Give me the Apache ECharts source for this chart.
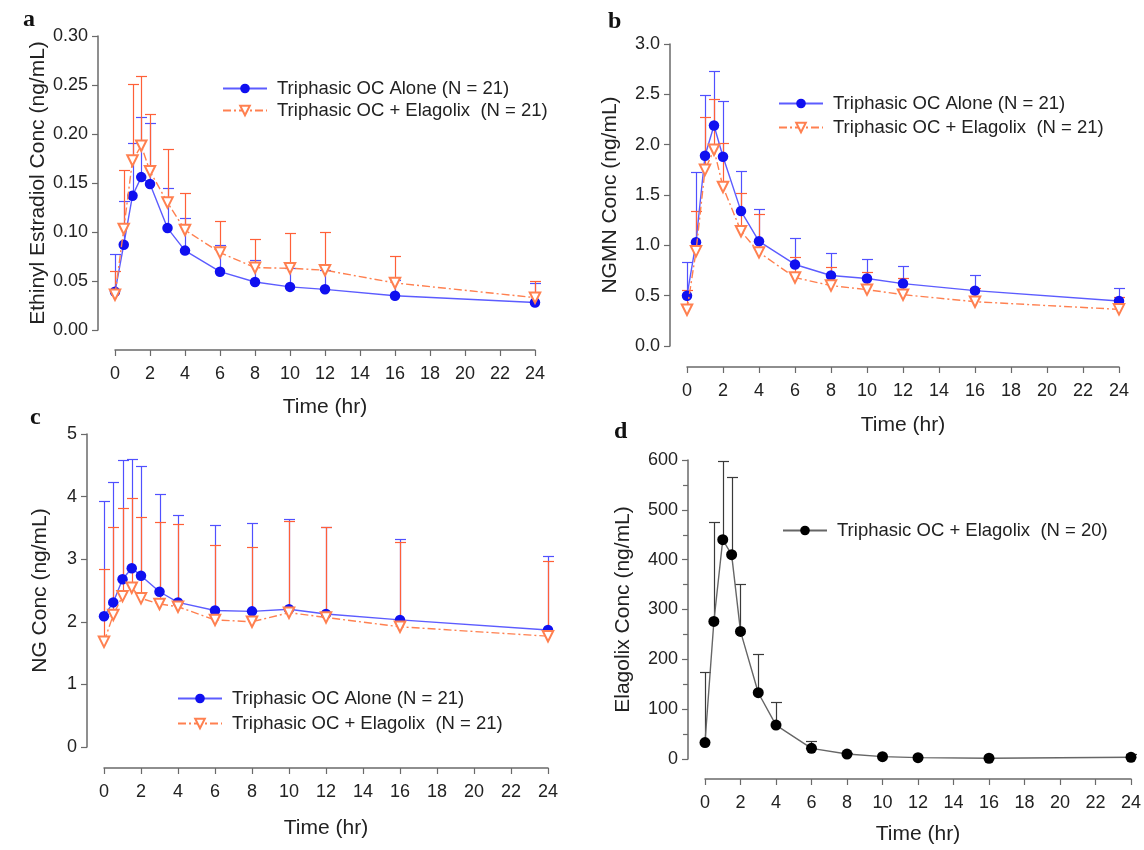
<!DOCTYPE html>
<html>
<head>
<meta charset="utf-8">
<script src="https://cdn.jsdelivr.net/npm/echarts@6/dist/echarts.min.js"></script>
<style>
html,body{margin:0;padding:0;background:#fff;}
#chart{width:1144px;height:850px;}
</style>
</head>
<body>
<div id="chart"></div>
<script>
// ---- data ----
const times = [0, 0.5, 1, 1.5, 2, 3, 4, 6, 8, 10, 12, 16, 24];
const xTicks = [0, 2, 4, 6, 8, 10, 12, 14, 16, 18, 20, 22, 24];

const nameAlone = 'Triphasic OC Alone (N = 21)';
const nameCombo = 'Triphasic OC + Elagolix  (N = 21)';
const nameElag = 'Triphasic OC + Elagolix  (N = 20)';

// panel a: Ethinyl Estradiol
const eeAloneMean  = [0.039, 0.087, 0.137, 0.156, 0.149, 0.104, 0.081, 0.0595, 0.049, 0.044, 0.0415, 0.035, 0.028];
const eeAloneUpper = [0.078, 0.132, 0.191, 0.217, 0.211, 0.145, 0.114, 0.087, 0.071, 0.063, 0.061, 0.051, 0.048];
const eeComboMean  = [0.036, 0.103, 0.173, 0.188, 0.162, 0.130, 0.102, 0.079, 0.0636, 0.063, 0.061, 0.048, 0.033];
const eeComboUpper = [0.060, 0.163, 0.251, 0.259, 0.220, 0.185, 0.140, 0.111, 0.0925, 0.099, 0.100, 0.0755, 0.050];

// panel b: NGMN
const ngmnAloneMean  = [0.50, 1.03, 1.89, 2.19, 1.88, 1.34, 1.04, 0.81, 0.70, 0.67, 0.62, 0.55, 0.447];
const ngmnAloneUpper = [0.83, 1.73, 2.49, 2.73, 2.43, 1.74, 1.36, 1.07, 0.92, 0.86, 0.79, 0.705, 0.573];
const ngmnComboMean  = [0.36, 0.94, 1.75, 1.95, 1.58, 1.14, 0.93, 0.68, 0.60, 0.56, 0.51, 0.44, 0.364];
const ngmnComboUpper = [0.556, 1.344, 2.27, 2.457, 2.02, 1.517, 1.308, 0.887, 0.78, 0.732, 0.672, 0.573, 0.49];

// panel c: NG
const ngAloneMean  = [2.09, 2.31, 2.68, 2.855, 2.737, 2.48, 2.31, 2.18, 2.167, 2.2, 2.125, 2.03, 1.87];
const ngAloneUpper = [3.93, 4.24, 4.585, 4.606, 4.494, 4.037, 3.706, 3.546, 3.573, 3.647, 3.52, 3.32, 3.05];
const ngComboMean  = [1.68, 2.11, 2.41, 2.545, 2.375, 2.285, 2.24, 2.03, 2.0, 2.145, 2.07, 1.92, 1.77];
const ngComboUpper = [2.84, 3.52, 3.81, 3.97, 3.68, 3.59, 3.56, 3.23, 3.2, 3.615, 3.514, 3.27, 2.97];

// panel d: Elagolix
const elagMean  = [33, 276, 440, 410, 256, 133, 68, 21.4, 10, 4.7, 2.7, 1.5, 3.4];
const elagUpper = [174, 476, 598, 565, 352, 211, 114, 35.5, 13, 6, 4, 3, 10];

// ---- styling ----
const FONT = '"Liberation Sans", Arial, sans-serif';
const AXIS_COLOR = '#6a6a6a';
const TEXT_COLOR = '#222';
const BLUE_LINE = '#5c5cff';
const BLUE_DOT = '#1010f0';
const BLUE_ERR = '#5050ff';
const ORANGE_LINE = '#ff8050';
const ORANGE_ERR = '#ff6038';

const grids = [
  {left: 115, top: 36, width: 420, height: 294},
  {left: 687, top: 44, width: 432, height: 302},
  {left: 104, top: 434, width: 444, height: 313},
  {left: 705, top: 460, width: 428, height: 299}
];

function xAxis(gi, offset, nameGap) {
  return {
    type: 'value', gridIndex: gi, min: 0, max: 24, interval: 2, offset: offset,
    axisLine: {show: true, onZero: false, lineStyle: {color: AXIS_COLOR, width: 1.5}},
    axisTick: {show: true, length: 6, lineStyle: {color: AXIS_COLOR, width: 1.2}},
    axisLabel: {fontSize: 18, color: TEXT_COLOR, margin: 15, fontFamily: FONT},
    splitLine: {show: false},
    name: 'Time (hr)', nameLocation: 'middle', nameGap: nameGap,
    nameTextStyle: {fontSize: 21, color: TEXT_COLOR, fontFamily: FONT}
  };
}
function yAxis(gi, min, max, interval, decimals, name, nameGap, minor) {
  return {
    type: 'value', gridIndex: gi, min: min, max: max, interval: interval, offset: 17,
    axisLine: {show: true, onZero: false, lineStyle: {color: AXIS_COLOR, width: 1.5}},
    axisTick: {show: true, length: 6, lineStyle: {color: AXIS_COLOR, width: 1.2}},
    minorTick: minor ? {show: true, splitNumber: 2, length: 5, lineStyle: {color: AXIS_COLOR, width: 1.2}} : {show: false},
    axisLabel: {fontSize: 18, color: TEXT_COLOR, margin: 10, fontFamily: FONT,
      formatter: v => v.toFixed(decimals)},
    splitLine: {show: false},
    name: name, nameLocation: 'middle', nameGap: nameGap,
    nameTextStyle: {fontSize: 21, color: TEXT_COLOR, fontFamily: FONT}
  };
}

function pairs(means) { return times.map((t, i) => [t, means[i]]); }

function errSeries(gi, means, uppers, color) {
  return {
    type: 'custom', xAxisIndex: gi, yAxisIndex: gi, silent: true, z: 1,
    data: times.map((t, i) => [t, means[i], uppers[i]]),
    encode: {x: 0, y: [1, 2]},
    renderItem: function (params, api) {
      const p0 = api.coord([api.value(0), api.value(1)]);
      const p1 = api.coord([api.value(0), api.value(2)]);
      const x = Math.round(p0[0]) + 0.5;
      const yTop = Math.round(p1[1]) + 0.5;
      return {
        type: 'group',
        children: [
          {type: 'line', shape: {x1: x, y1: p0[1], x2: x, y2: yTop},
           style: {stroke: color, lineWidth: 1.2}},
          {type: 'line', shape: {x1: x - 5.5, y1: yTop, x2: x + 5.5, y2: yTop},
           style: {stroke: color, lineWidth: 1.2}}
        ]
      };
    }
  };
}

function aloneSeries(gi, means) {
  return {
    name: nameAlone, type: 'line', xAxisIndex: gi, yAxisIndex: gi, z: 3,
    data: pairs(means), symbol: 'circle', symbolSize: 10.5,
    itemStyle: {color: BLUE_DOT},
    lineStyle: {color: BLUE_LINE, width: 1.4},
    animation: false
  };
}
function comboSeries(gi, means) {
  return {
    name: nameCombo, type: 'line', xAxisIndex: gi, yAxisIndex: gi, z: 4,
    data: pairs(means), symbol: 'emptyTriangle', symbolRotate: 180, symbolSize: 10.5,
    itemStyle: {color: ORANGE_LINE, borderWidth: 1.3},
    lineStyle: {color: ORANGE_LINE, width: 1.4, type: [8, 3, 2, 3]},
    animation: false
  };
}

function legend(left, top, gap, names) {
  return {
    left: left, top: top, orient: 'vertical', itemWidth: 44, itemHeight: 12, itemGap: gap,
    padding: 0,
    data: names, selectedMode: false,
    textStyle: {fontSize: 18.5, color: TEXT_COLOR, fontFamily: FONT, padding: [0, 0, 0, 5]}
  };
}

const chart = echarts.init(document.getElementById('chart'), null, {renderer: 'canvas'});
chart.setOption({
  animation: false,
  backgroundColor: '#fff',
  grid: grids,
  xAxis: [xAxis(0, 20, 47), xAxis(1, 21, 48), xAxis(2, 21, 50), xAxis(3, 20, 45)],
  yAxis: [
    yAxis(0, 0, 0.3, 0.05, 2, 'Ethinyl Estradiol Conc (ng/mL)', 49),
    yAxis(1, 0, 3, 0.5, 1, 'NGMN Conc (ng/mL)', 49),
    yAxis(2, 0, 5, 1, 0, 'NG Conc (ng/mL)', 36),
    yAxis(3, 0, 600, 100, 0, 'Elagolix Conc (ng/mL)', 54, true)
  ],
  legend: [
    legend(222, 79, 3, [nameAlone, nameCombo]),
    legend(778, 94, 5, [nameAlone, nameCombo]),
    legend(177, 689, 6, [nameAlone, nameCombo]),
    legend(782, 521, 5, [nameElag])
  ],
  graphic: [
    {type: 'text', left: 23, top: 8, style: {text: 'a', font: 'bold 24px "Liberation Serif", serif', fill: '#111'}},
    {type: 'text', left: 608, top: 10, style: {text: 'b', font: 'bold 24px "Liberation Serif", serif', fill: '#111'}},
    {type: 'text', left: 30, top: 406, style: {text: 'c', font: 'bold 24px "Liberation Serif", serif', fill: '#111'}},
    {type: 'text', left: 614, top: 420, style: {text: 'd', font: 'bold 24px "Liberation Serif", serif', fill: '#111'}}
  ],
  series: [
    errSeries(0, eeAloneMean, eeAloneUpper, BLUE_ERR),
    errSeries(0, eeComboMean, eeComboUpper, ORANGE_ERR),
    aloneSeries(0, eeAloneMean),
    comboSeries(0, eeComboMean),

    errSeries(1, ngmnAloneMean, ngmnAloneUpper, BLUE_ERR),
    errSeries(1, ngmnComboMean, ngmnComboUpper, ORANGE_ERR),
    comboSeries(1, ngmnComboMean),
    aloneSeries(1, ngmnAloneMean),

    errSeries(2, ngAloneMean, ngAloneUpper, BLUE_ERR),
    errSeries(2, ngComboMean, ngComboUpper, ORANGE_ERR),
    aloneSeries(2, ngAloneMean),
    comboSeries(2, ngComboMean),

    errSeries(3, elagMean, elagUpper, '#3a3a3a'),
    {
      name: nameElag, type: 'line', xAxisIndex: 3, yAxisIndex: 3, z: 3,
      data: pairs(elagMean), symbol: 'circle', symbolSize: 11,
      itemStyle: {color: '#000'},
      lineStyle: {color: '#666', width: 1.4},
      animation: false
    }
  ]
});
</script>
</body>
</html>
